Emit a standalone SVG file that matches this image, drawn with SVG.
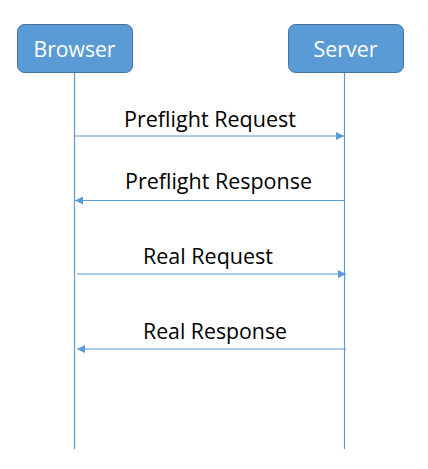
<svg xmlns="http://www.w3.org/2000/svg" width="428" height="469" viewBox="0 0 428 469">
<style>
.box{fill:#5b9bd5;stroke:#41719c;stroke-width:1}
.btxt{font-family:"Open Sans","Liberation Sans",Arial,sans-serif;font-size:21px;fill:#ffffff;text-anchor:middle}
.life{stroke:#5b9bd5;stroke-width:1.2;fill:none}
.msg{stroke:#5b9bd5;stroke-width:1.2;fill:none}
.lbl{font-family:"Open Sans","Liberation Sans",Arial,sans-serif;font-size:21px;fill:#000000}
</style>
<defs>
<marker id="ah" viewBox="0 0 10 10" refX="10" refY="5" markerWidth="8" markerHeight="8" markerUnits="userSpaceOnUse" orient="auto">
<path d="M0,0 L10,5 L0,10 z" fill="#5b9bd5"/>
</marker>
</defs>
<rect width="428" height="469" fill="#ffffff"/>
<g id="browser">
<rect class="box" x="17.5" y="24.5" width="115" height="48" rx="7"/>
<text class="btxt" x="74.5" y="57" textLength="82" lengthAdjust="spacingAndGlyphs">Browser</text>
</g>
<g id="server">
<rect class="box" x="288.5" y="24.5" width="115" height="48" rx="7"/>
<text class="btxt" x="345.5" y="57" textLength="64" lengthAdjust="spacingAndGlyphs">Server</text>
</g>
<g id="connectors">
<line class="life" x1="74.5" y1="73" x2="74.5" y2="449"/>
<line class="life" x1="344.5" y1="73" x2="344.5" y2="449"/>
<line class="msg" x1="75" y1="136" x2="344" y2="136" marker-end="url(#ah)"/>
<line class="msg" x1="344" y1="200.5" x2="75" y2="200.5" marker-end="url(#ah)"/>
<line class="msg" x1="77" y1="274" x2="346" y2="274" marker-end="url(#ah)"/>
<line class="msg" x1="346" y1="349" x2="77" y2="349" marker-end="url(#ah)"/>
</g>
<g id="labels">
<text class="lbl" x="124" y="127" textLength="172" lengthAdjust="spacingAndGlyphs">Preflight Request</text>
<text class="lbl" x="125" y="189" textLength="187" lengthAdjust="spacingAndGlyphs">Preflight Response</text>
<text class="lbl" x="143" y="264" textLength="130" lengthAdjust="spacingAndGlyphs">Real Request</text>
<text class="lbl" x="143" y="339" textLength="144" lengthAdjust="spacingAndGlyphs">Real Response</text>
</g>
</svg>
